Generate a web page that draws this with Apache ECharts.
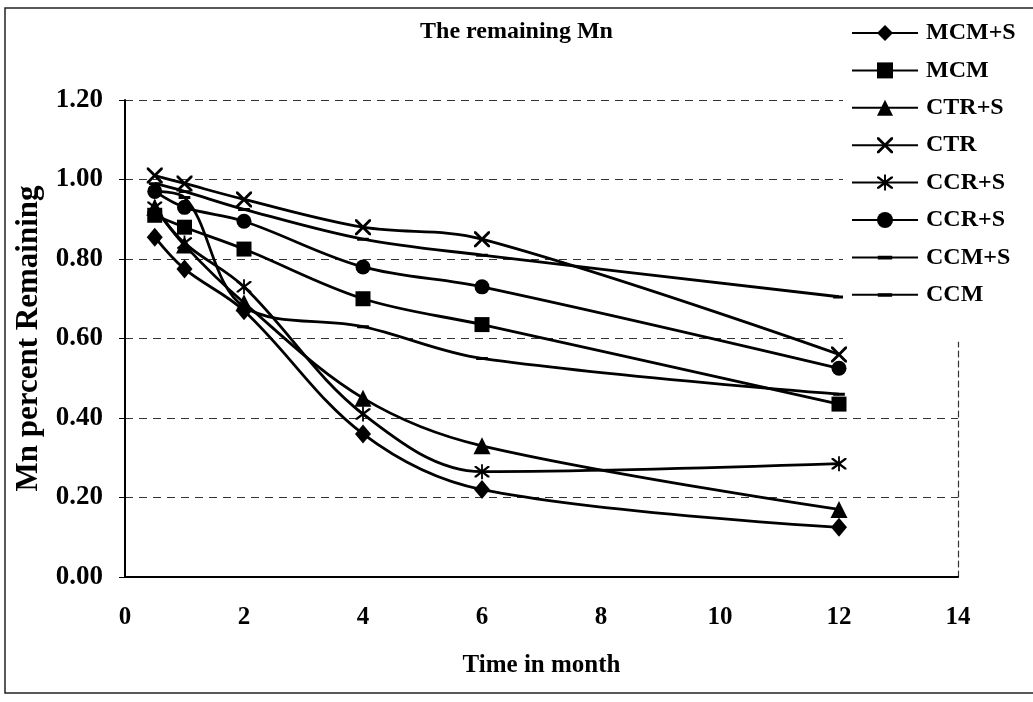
<!DOCTYPE html>
<html>
<head>
<meta charset="utf-8">
<script src="https://cdn.jsdelivr.net/npm/echarts@6/dist/echarts.min.js"></script>
<style>
html,body{margin:0;padding:0;background:#fff;}
#EchartBox{width:1033px;height:702px;}
</style>
</head>
<body>
<div id="EchartBox"></div>
<script>
// months of sampling
var months = [0.5, 1, 2, 4, 6, 12];

// fraction of Mn remaining
var mcmS    = [0.855, 0.775, 0.67, 0.36, 0.22, 0.125];
var mcm     = [0.91, 0.88, 0.825, 0.70, 0.635, 0.435];
var ctrS    = [0.93, 0.835, 0.69, 0.45, 0.33, 0.17];
var ctr     = [1.01, 0.99, 0.95, 0.88, 0.85, 0.56];
var ccrStar = [0.93, 0.84, 0.73, 0.41, 0.265, 0.285];
var ccrDot  = [0.97, 0.93, 0.895, 0.78, 0.73, 0.525];
var ccmS    = [0.97, 0.955, 0.68, 0.63, 0.55, 0.46];
var ccm     = [0.99, 0.97, 0.925, 0.85, 0.81, 0.705];

var seriesKeys   = ['MCM+S', 'MCM', 'CTR+S', 'CTR', 'CCR+S', 'CCR+S_2', 'CCM+S', 'CCM'];
var legendLabels = ['MCM+S', 'MCM', 'CTR+S', 'CTR', 'CCR+S', 'CCR+S', 'CCM+S', 'CCM'];

var FONT = '"Liberation Serif", "Times New Roman", serif';

// marker shapes (x, asterisk, short dash inside a square box)
var crossPath = 'path://M0,0L2.5,0L10,7.5L17.5,0L20,0L20,2.5L12.5,10L20,17.5L20,20L17.5,20L10,12.5L2.5,20L0,20L0,17.5L7.5,10L0,2.5Z';
var starPath  = 'path://M0,0L2.5,0L10,7.5L17.5,0L20,0L20,2.5L12.5,10L20,17.5L20,20L17.5,20L10,12.5L2.5,20L0,20L0,17.5L7.5,10L0,2.5Z M8.8,-3L11.2,-3L11.2,23L8.8,23Z';
var dashPath  = 'path://M0,0L0.01,0L0,0.01Z M1,8L19,8L19,12.5L1,12.5Z M20,20L19.99,20L20,19.99Z';

function pairs(vals) {
	var out = [];
	for (var i = 0; i < months.length; i++) {
		out.push([months[i], vals[i]]);
	}
	return out;
}

function mkSeries(key, vals, symbol, size) {
	return {
		name: key,
		type: 'line',
		smooth: 0.35,
		data: pairs(vals),
		symbol: symbol,
		symbolSize: size,
		showAllSymbol: true,
		lineStyle: {color: '#000', width: 2.8},
		itemStyle: {color: '#000', borderColor: '#000', borderWidth: 0},
		emphasis: {disabled: true}
	};
}

var seriesList = [
	mkSeries('MCM+S', mcmS, 'diamond', [16, 19]),
	mkSeries('MCM', mcm, 'rect', 15),
	mkSeries('CTR+S', ctrS, 'triangle', 17),
	mkSeries('CTR', ctr, crossPath, 16),
	mkSeries('CCR+S', ccrStar, starPath, 15),
	mkSeries('CCR+S_2', ccrDot, 'circle', 15),
	mkSeries('CCM+S', ccmS, dashPath, 13),
	mkSeries('CCM', ccm, dashPath, 13)
];

var legendData = [];
for (var i = 0; i < seriesKeys.length; i++) {
	legendData.push({name: seriesKeys[i]});
}

var myChart = echarts.init(document.getElementById('EchartBox'));

var option = {
	backgroundColor: '#fff',
	animation: false,
	textStyle: {fontFamily: FONT, color: '#000'},
	title: {
		text: 'The remaining Mn',
		left: 'center',
		top: 15,
		textStyle: {fontFamily: FONT, fontWeight: 'bold', fontSize: 24, color: '#000'}
	},
	legend: {
		orient: 'vertical',
		left: 843,
		top: 12,
		padding: [8, 12, 34, 8],
		backgroundColor: '#fff',
		itemWidth: 66,
		itemHeight: 20,
		itemGap: 11.4,
		data: legendData,
		formatter: function (name) {
			return legendLabels[seriesKeys.indexOf(name)];
		},
		textStyle: {fontFamily: FONT, fontWeight: 'bold', fontSize: 24, lineHeight: 26, color: '#000', padding: [0, 0, 0, 3]},
		selectedMode: false
	},
	graphic: [{
		type: 'rect',
		shape: {x: 5, y: 8, width: 1040, height: 685},
		style: {fill: 'none', stroke: '#222', lineWidth: 1.5},
		silent: true,
		z: -1
	}],
	grid: {left: 125, right: 75, top: 100, bottom: 125},
	xAxis: {
		type: 'value',
		min: 0,
		max: 14,
		interval: 2,
		name: 'Time in month',
		nameLocation: 'middle',
		nameGap: 76,
		nameTextStyle: {fontFamily: FONT, fontWeight: 'bold', fontSize: 25, color: '#000'},
		axisLine: {lineStyle: {color: '#000', width: 2}},
		axisTick: {show: false},
		axisLabel: {fontFamily: FONT, fontWeight: 'bold', fontSize: 25, color: '#000', margin: 28},
		splitLine: {show: false}
	},
	yAxis: [{
		type: 'value',
		min: 0,
		max: 1.2,
		interval: 0.2,
		name: 'Mn percent Remaining',
		nameLocation: 'middle',
		nameGap: 80,
		nameTextStyle: {fontFamily: FONT, fontWeight: 'bold', fontSize: 31, color: '#000'},
		axisLine: {show: true, lineStyle: {color: '#000', width: 2}},
		axisTick: {show: true, length: 6, lineStyle: {color: '#000'}},
		axisLabel: {
			fontFamily: FONT, fontWeight: 'bold', fontSize: 27, color: '#000', margin: 22,
			formatter: function (v) { return v.toFixed(2); }
		},
		splitLine: {show: true, lineStyle: {color: '#333', width: 1.2, type: [8, 6]}}
	}, {
		type: 'value',
		position: 'right',
		min: 0,
		max: 1.2,
		interval: 0.2,
		axisLine: {show: true, lineStyle: {color: '#333', width: 1.2, type: [6, 4]}},
		axisTick: {show: false},
		axisLabel: {show: false},
		splitLine: {show: false}
	}],
	series: seriesList
};

myChart.setOption(option);
</script>
</body>
</html>
